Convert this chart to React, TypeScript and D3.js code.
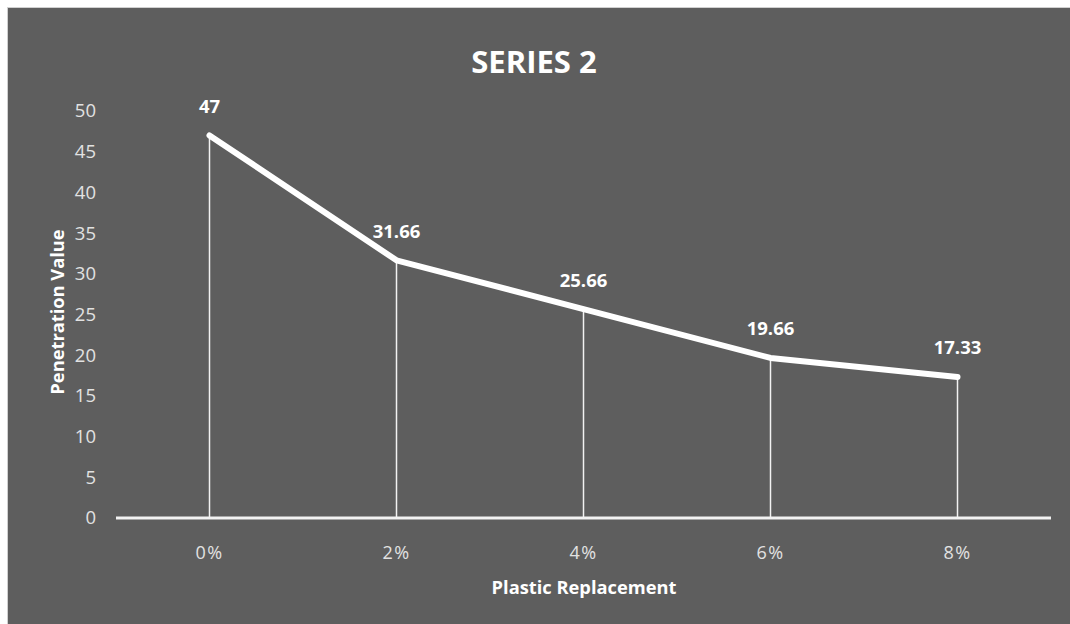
import React, { useEffect, useRef } from "react";
import * as d3 from "d3";

const categories = ["0%", "2%", "4%", "6%", "8%"];
const values = [47, 31.66, 25.66, 19.66, 17.33];
const yTicks = [0, 5, 10, 15, 20, 25, 30, 35, 40, 45, 50];

const W = 1070;
const H = 624;
const FONT = "'Open Sans', 'Noto Sans', sans-serif";

export default function App() {
  const ref = useRef<SVGSVGElement | null>(null);

  useEffect(() => {
    const svg = d3.select(ref.current);
    svg.selectAll("*").remove();

    svg.append("rect").attr("width", W).attr("height", H).attr("fill", "#ffffff");
    svg
      .append("rect")
      .attr("x", 7.5)
      .attr("y", 7.5)
      .attr("width", W)
      .attr("height", H)
      .attr("fill", "#5e5e5e")
      .attr("stroke", "#d0d0d0")
      .attr("stroke-width", 1);

    const x = d3.scaleBand<string>().domain(categories).range([116, 1051]);
    const y = d3.scaleLinear().domain([0, 50]).range([518, 111]);
    const cx = (c: string) => (x(c) as number) + x.bandwidth() / 2;

    // title
    svg
      .append("text")
      .attr("x", 534)
      .attr("y", 73)
      .attr("text-anchor", "middle")
      .attr("font-family", FONT)
      .attr("font-weight", 700)
      .attr("font-size", 31)
      .attr("fill", "#ffffff")
      .text("SERIES 2");

    // y tick labels
    svg
      .append("g")
      .selectAll("text")
      .data(yTicks)
      .join("text")
      .attr("x", 96)
      .attr("y", (d) => y(d))
      .attr("dy", "0.35em")
      .attr("text-anchor", "end")
      .attr("font-family", FONT)
      .attr("font-size", 18.5)
      .attr("fill", "#e2e2e2")
      .text((d) => String(d));

    // drop lines from each point to the axis
    svg
      .append("g")
      .selectAll("line")
      .data(values)
      .join("line")
      .attr("x1", (_, i) => cx(categories[i]))
      .attr("x2", (_, i) => cx(categories[i]))
      .attr("y1", (d) => y(d))
      .attr("y2", y(0))
      .attr("stroke", "#f2f2f2")
      .attr("stroke-width", 1.5);

    // x axis baseline
    svg
      .append("line")
      .attr("x1", 116)
      .attr("x2", 1051)
      .attr("y1", y(0))
      .attr("y2", y(0))
      .attr("stroke", "#f2f2f2")
      .attr("stroke-width", 3);

    // x tick labels
    svg
      .append("g")
      .selectAll("text")
      .data(categories)
      .join("text")
      .attr("x", (d) => cx(d))
      .attr("y", 553)
      .attr("dy", "0.35em")
      .attr("text-anchor", "middle")
      .attr("font-family", FONT)
      .attr("font-size", 18)
      .attr("letter-spacing", 1.5)
      .attr("fill", "#e2e2e2")
      .text((d) => d);

    // series line
    const line = d3
      .line<number>()
      .x((_, i) => cx(categories[i]))
      .y((d) => y(d));
    svg
      .append("path")
      .datum(values)
      .attr("d", line)
      .attr("fill", "none")
      .attr("stroke", "#ffffff")
      .attr("stroke-width", 6)
      .attr("stroke-linecap", "round")
      .attr("stroke-linejoin", "round");

    // data labels
    svg
      .append("g")
      .selectAll("text")
      .data(values)
      .join("text")
      .attr("x", (_, i) => cx(categories[i]))
      .attr("y", (d) => y(d) - 29)
      .attr("dy", "0.35em")
      .attr("text-anchor", "middle")
      .attr("font-family", FONT)
      .attr("font-weight", 700)
      .attr("font-size", 18.5)
      .attr("fill", "#ffffff")
      .text((d) => String(d));

    // axis titles
    svg
      .append("text")
      .attr("x", 584)
      .attr("y", 588)
      .attr("dy", "0.35em")
      .attr("text-anchor", "middle")
      .attr("font-family", FONT)
      .attr("font-weight", 700)
      .attr("font-size", 18.3)
      .attr("fill", "#ffffff")
      .text("Plastic Replacement");

    svg
      .append("text")
      .attr("transform", "translate(58,312) rotate(-90)")
      .attr("dy", "0.35em")
      .attr("text-anchor", "middle")
      .attr("font-family", FONT)
      .attr("font-weight", 700)
      .attr("font-size", 18.3)
      .attr("fill", "#ffffff")
      .text("Penetration Value");
  }, []);

  return (
    <svg
      ref={ref}
      width={W}
      height={H}
      style={{ position: "absolute", left: 0, top: 0, display: "block" }}
    />
  );
}
